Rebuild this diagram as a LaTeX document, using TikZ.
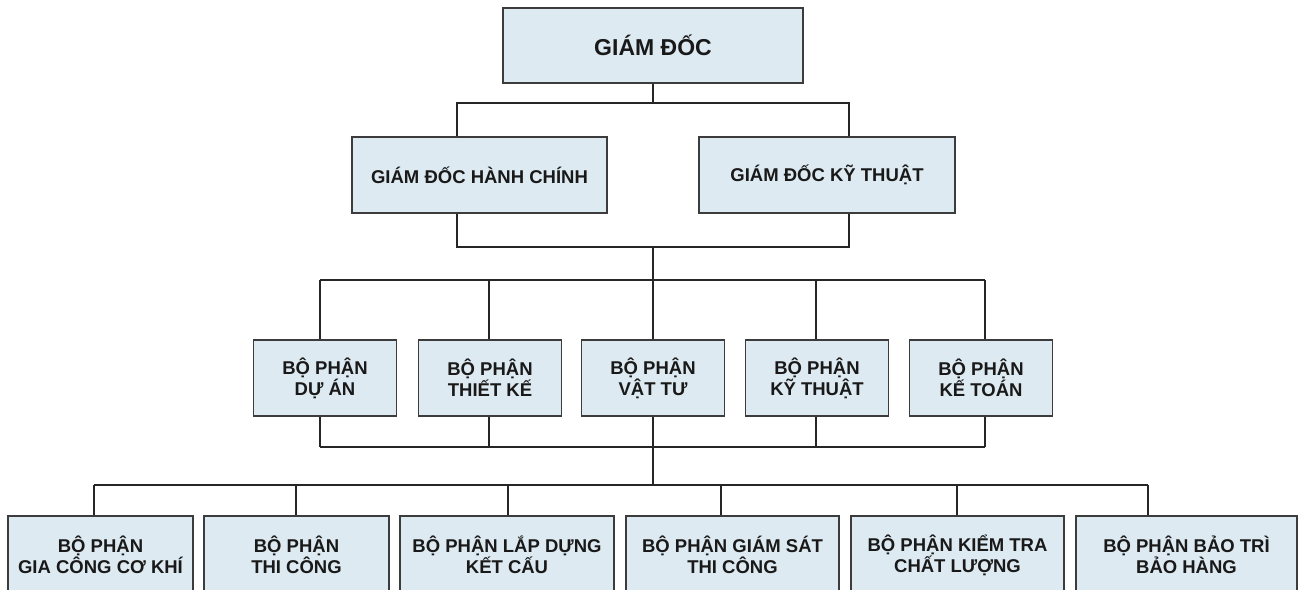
\documentclass[tikz,border=0pt]{standalone}
\usepackage{fontspec}
\setmainfont{Liberation Sans}
\definecolor{boxfill}{RGB}{222,234,241}
\definecolor{boxline}{RGB}{60,60,60}
\definecolor{txt}{RGB}{25,25,25}
\begin{document}
\begin{tikzpicture}[x=1pt,y=-1pt,
  orgbox/.style={draw=boxline,line width=1.3pt,fill=boxfill,inner sep=0pt,
    align=center,text=txt,font=\fontsize{18.5}{21}\selectfont\bfseries},
  conn/.style={draw=black!85,line width=1.3pt}]
\useasboundingbox (0,0) rectangle (1298,589);
\clip (0,0) rectangle (1298,589);
% boxes
\node[orgbox,minimum width=300pt,minimum height=75pt,font=\fontsize{23}{26}\selectfont\bfseries] (A) at (653,45.5) {GIÁM ĐỐC};
\node[orgbox,minimum width=255pt,minimum height=76pt] (B1) at (479.5,175) {GIÁM ĐỐC HÀNH CHÍNH};
\node[orgbox,minimum width=256pt,minimum height=76pt] (B2) at (827,175) {GIÁM ĐỐC KỸ THUẬT};
\foreach \n/\x/\t in {C1/325/{BỘ PHẬN\\DỰ ÁN},C2/490/{BỘ PHẬN\\THIẾT KẾ},C3/653/{BỘ PHẬN\\VẬT TƯ},C4/817/{BỘ PHẬN\\KỸ THUẬT},C5/981/{BỘ PHẬN\\KẾ TOÁN}}
  \node[orgbox,minimum width=143pt,minimum height=76pt] (\n) at (\x,378) {\t};
\node[orgbox,minimum width=185pt,minimum height=78pt] (D1) at (100.5,555) {BỘ PHẬN\\GIA CÔNG CƠ KHÍ};
\node[orgbox,minimum width=185pt,minimum height=78pt] (D2) at (296.5,555) {BỘ PHẬN\\THI CÔNG};
\node[orgbox,minimum width=214pt,minimum height=78pt] (D3) at (507,555) {BỘ PHẬN LẮP DỰNG\\KẾT CẤU};
\node[orgbox,minimum width=213pt,minimum height=78pt] (D4) at (732.5,555) {BỘ PHẬN GIÁM SÁT\\THI CÔNG};
\node[orgbox,minimum width=213pt,minimum height=78pt] (D5) at (957.5,555) {BỘ PHẬN KIỂM TRA\\CHẤT LƯỢNG};
\node[orgbox,minimum width=221pt,minimum height=78pt] (D6) at (1186.5,555) {BỘ PHẬN BẢO TRÌ\\BẢO HÀNG};
% tap coordinates
\coordinate (tAB) at (653,103);
\coordinate (tB1) at (457,103);
\coordinate (tB2) at (849,103);
\coordinate (uB1) at (457,247);
\coordinate (uB2) at (849,247);
\coordinate (uBC) at (653,247);
\coordinate (vC) at (653,280);
\coordinate (wC) at (653,447);
\coordinate (xD) at (653,485);
% connectors A -> B
\draw[conn] (A.south) -- (tAB);
\draw[conn] (tB1 |- B1.north) -- (tB1) -- (tB2) -- (tB2 |- B2.north);
% B -> bus
\draw[conn] (tB1 |- B1.south) -- (uB1) -- (uB2) -- (tB2 |- B2.south);
\draw[conn] (uBC) -- (vC);
% bus -> C
\foreach \n/\x in {C1/320,C2/489,C3/653,C4/816,C5/985}{
  \draw[conn] (\x,280) -- (\x,280 |- \n.north);
  \draw[conn] (\x,280 |- \n.south) -- (\x,447);
}
\draw[conn] (320,280) -- (985,280);
\draw[conn] (320,447) -- (985,447);
\draw[conn] (wC) -- (xD);
% bus -> D
\draw[conn] (94,485) -- (1148,485);
\foreach \n/\x in {D1/94,D2/296,D3/508,D4/721,D5/957,D6/1148}
  \draw[conn] (\x,485) -- (\x,485 |- \n.north);
\end{tikzpicture}
\end{document}
